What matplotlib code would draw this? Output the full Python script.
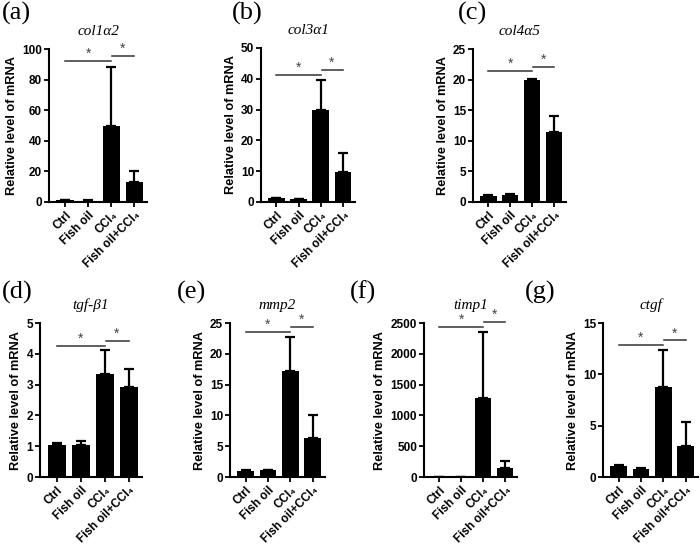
import matplotlib
matplotlib.use("Agg")
import matplotlib.pyplot as plt
from matplotlib import font_manager
import numpy as np

categories = ["Ctrl", "Fish oil", "CCl₄", "Fish oil+CCl₄"]

genes = ["col1α2", "col3α1", "col4α5", "tgf-β1", "mmp2", "timp1", "ctgf"]
panel_labels = ["(a)", "(b)", "(c)", "(d)", "(e)", "(f)", "(g)"]

col1a2_mean = [1.0, 0.8, 50.0, 13.0]
col1a2_err = [0.3, 0.2, 38.5, 7.5]
col3a1_mean = [1.2, 0.9, 30.0, 9.8]
col3a1_err = [0.2, 0.1, 9.5, 6.0]
col4a5_mean = [1.05, 1.2, 20.0, 11.4]
col4a5_err = [0.1, 0.1, 0.1, 2.6]
tgfb1_mean = [1.05, 1.05, 3.33, 2.92]
tgfb1_err = [0.07, 0.12, 0.80, 0.60]
mmp2_mean = [1.05, 1.1, 17.2, 6.3]
mmp2_err = [0.05, 0.1, 5.6, 3.7]
timp1_mean = [1.0, 1.0, 1280.0, 140.0]
timp1_err = [0.1, 0.1, 1070.0, 120.0]
ctgf_mean = [1.05, 0.8, 8.8, 3.0]
ctgf_err = [0.1, 0.05, 3.6, 2.4]

means = [col1a2_mean, col3a1_mean, col4a5_mean, tgfb1_mean, mmp2_mean, timp1_mean, ctgf_mean]
errs = [col1a2_err, col3a1_err, col4a5_err, tgfb1_err, mmp2_err, timp1_err, ctgf_err]

y_max = [100, 50, 25, 5, 25, 2500, 15]
y_step = [20, 10, 5, 1, 5, 500, 5]
# significance bar heights (long bar Ctrl->CCl4, short bar CCl4->FO+CCl4)
sig_long = [92, 41.2, 21.4, 4.25, 23.6, 2440, 12.9]
sig_short = [95.4, 42.9, 22.1, 4.42, 24.4, 2520, 13.3]

W, H = 700, 545
# axes pixel boxes: left, right, top, bottom
boxes = [
    (49, 147, 49, 202),
    (261, 355, 48, 202),
    (473, 566, 49, 202),
    (40, 142, 323, 477),
    (230, 325, 323, 477),
    (424, 517, 323, 477),
    (603, 698, 323, 477),
]


def have(name):
    try:
        font_manager.findfont(font_manager.FontProperties(family=name),
                              fallback_to_default=False)
        return True
    except Exception:
        return False


narrow = ["Liberation Sans Narrow"] if have("Liberation Sans Narrow") else []
sans = ["Liberation Sans", "DejaVu Sans"]
tick_fam = narrow + sans
serif = ["Liberation Serif", "DejaVu Serif"]

fig = plt.figure(figsize=(W / 100, H / 100), dpi=100)

for i in range(7):
    l, r, t, b = boxes[i]
    ax = fig.add_axes([l / W, 1 - b / H, (r - l) / W, (b - t) / H])
    x = np.arange(4)
    ax.bar(x, means[i], width=0.75, color="black", zorder=2)
    ax.errorbar(x, means[i], yerr=[np.zeros(4), errs[i]], fmt="none",
                ecolor="black", elinewidth=1.6, capsize=3.5, capthick=1.6, zorder=3)
    ax.set_xlim(-0.7, 3.55)
    ax.set_ylim(0, y_max[i])
    ax.set_yticks(np.arange(0, y_max[i] + y_step[i] / 2, y_step[i]))
    ax.set_xticks(x)
    ax.set_xticklabels(categories, rotation=45, ha="right", rotation_mode="anchor",
                       fontsize=8.5, fontweight="bold", family=sans)
    for lab in ax.get_yticklabels():
        lab.set_fontsize(9.5 if narrow else 8.5)
        lab.set_fontweight("bold")
        lab.set_family(tick_fam)
    ax.spines["top"].set_visible(False)
    ax.spines["right"].set_visible(False)
    ax.spines["left"].set_linewidth(1.5)
    ax.spines["bottom"].set_linewidth(1.5)
    ax.tick_params(width=1.3, length=3.5, pad=1.5)
    ax.set_ylabel("Relative level of mRNA", fontsize=9.2, fontweight="bold",
                  family=sans, labelpad=3)
    ax.set_title(genes[i], fontsize=11, style="italic", family=serif, pad=10)
    # significance bars
    ax.plot([0, 2], [sig_long[i], sig_long[i]], color="#333333", lw=1.1, clip_on=False)
    ax.plot([2.05, 3], [sig_short[i], sig_short[i]], color="#333333", lw=1.1, clip_on=False)
    ax.text(1.0, sig_long[i], "*", ha="center", va="bottom", fontsize=10,
            color="#444444", family=sans)
    ax.text(2.5, sig_short[i], "*", ha="center", va="bottom", fontsize=10,
            color="#444444", family=sans)

label_pos = [(2, 2), (232, 2), (458, 2), (2, 281), (177, 281), (350, 281), (525, 281)]
for (px, py), lab in zip(label_pos, panel_labels):
    fig.text(px / W, 1 - py / H, lab, ha="left", va="top", fontsize=19, family=serif)

fig.savefig("out.png", dpi=100)
